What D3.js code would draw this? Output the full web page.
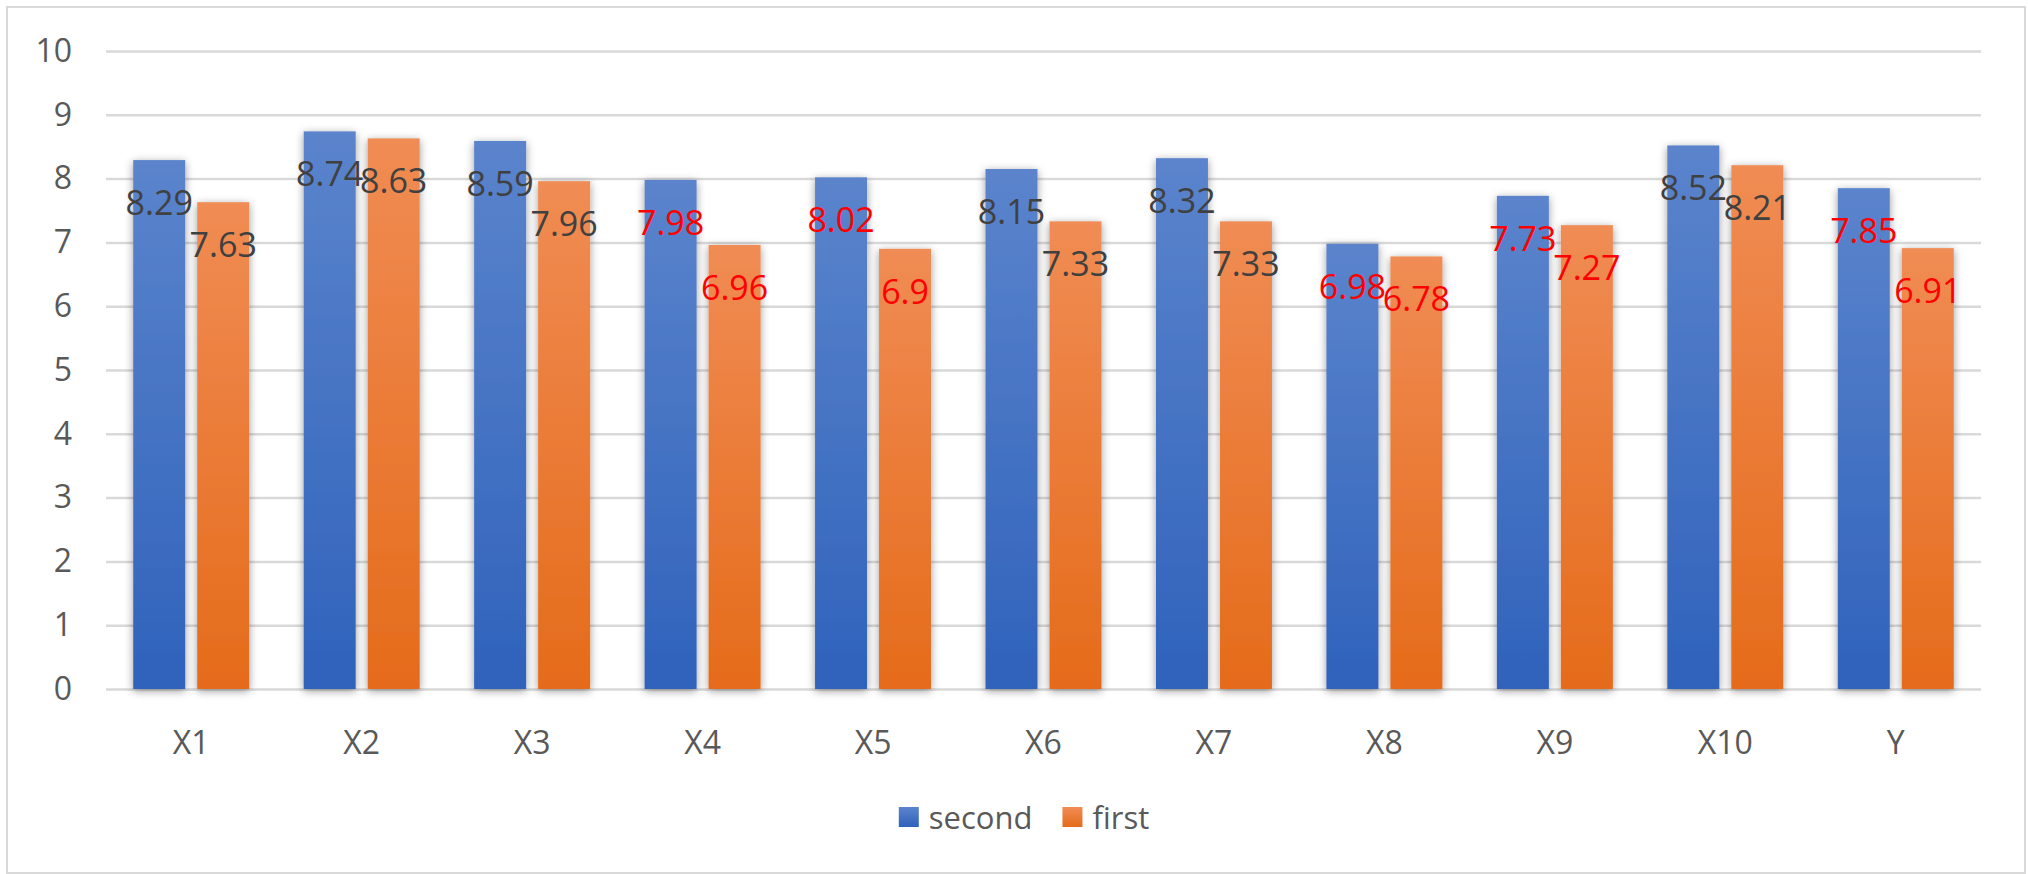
<!DOCTYPE html>
<html>
<head>
<meta charset="utf-8">
<script src="https://cdn.jsdelivr.net/npm/d3@7"></script>
<style>
  body { margin: 0; background: #fff; }
  svg { display: block; font-family: "Open Sans", "Noto Sans", sans-serif; }
</style>
</head>
<body>
<div id="chart"></div>
<script>
// chart data
const categories = ["X1", "X2", "X3", "X4", "X5", "X6", "X7", "X8", "X9", "X10", "Y"];
const seriesNames = ["second", "first"];
const secondValues = [8.29, 8.74, 8.59, 7.98, 8.02, 8.15, 8.32, 6.98, 7.73, 8.52, 7.85];
const firstValues = [7.63, 8.63, 7.96, 6.96, 6.9, 7.33, 7.33, 6.78, 7.27, 8.21, 6.91];
const yTicks = [0, 1, 2, 3, 4, 5, 6, 7, 8, 9, 10];
// categories whose labels are shown in red
const redCategories = ["X4", "X5", "X8", "X9", "Y"];

const width = 2028, height = 874;
const plot = {left: 106, right: 1981, top: 51, bottom: 689};

const svg = d3.select("#chart").append("svg")
    .attr("width", width)
    .attr("height", height);

const defs = svg.append("defs");
const grads = {
    second: ["#5b84cc", "#2f62bb"],
    first: ["#f08c54", "#e56b1a"]
};
Object.keys(grads).forEach(k => {
    const g = defs.append("linearGradient").attr("id", "grad-" + k)
        .attr("x1", 0).attr("y1", 0).attr("x2", 0).attr("y2", 1);
    g.append("stop").attr("offset", "0%").attr("stop-color", grads[k][0]);
    g.append("stop").attr("offset", "100%").attr("stop-color", grads[k][1]);
});
const shadow = defs.append("filter").attr("id", "shadow")
    .attr("x", "-30%").attr("y", "-10%").attr("width", "160%").attr("height", "120%");
shadow.append("feDropShadow").attr("dx", 0).attr("dy", 2)
    .attr("stdDeviation", 4).attr("flood-color", "#000").attr("flood-opacity", 0.4);

// outer frame
svg.append("rect")
    .attr("x", 7).attr("y", 7).attr("width", 2018).attr("height", 866)
    .attr("fill", "#fff").attr("stroke", "#d9d9d9").attr("stroke-width", 2);

const x0 = d3.scaleBand().domain(categories).range([plot.left, plot.right]);
const x1 = d3.scaleBand().domain(seriesNames)
    .range([x0.bandwidth() / 2 - 58, x0.bandwidth() / 2 + 58])
    .paddingInner(0.1875);
const y = d3.scaleLinear().domain([0, 10]).range([plot.bottom, plot.top]);

// gridlines + y labels
const yAxis = svg.append("g")
    .attr("transform", `translate(${plot.left},0)`)
    .call(d3.axisLeft(y).tickValues(yTicks).tickSize(-(plot.right - plot.left)).tickPadding(34));
yAxis.select(".domain").remove();
yAxis.selectAll(".tick line").attr("stroke", "#d9d9d9").attr("stroke-width", 2.5);
yAxis.selectAll(".tick text")
    .attr("fill", "#595959").attr("font-size", 32)
    .attr("font-family", "'Open Sans', sans-serif");

// x labels
const xAxis = svg.append("g")
    .attr("transform", `translate(0,${plot.bottom})`)
    .call(d3.axisBottom(x0).tickSize(0).tickPadding(42));
xAxis.select(".domain").remove();
xAxis.selectAll(".tick text")
    .attr("fill", "#595959").attr("font-size", 32)
    .attr("font-family", "'Open Sans', sans-serif");

const rows = categories.map((c, i) => ({
    cat: c,
    vals: [{s: "second", v: secondValues[i]}, {s: "first", v: firstValues[i]}]
}));

const groups = svg.append("g").selectAll("g")
    .data(rows).join("g")
    .attr("transform", d => `translate(${x0(d.cat)},0)`);

groups.selectAll("rect")
    .data(d => d.vals).join("rect")
    .attr("x", d => x1(d.s))
    .attr("width", x1.bandwidth())
    .attr("y", d => y(d.v))
    .attr("height", d => y(0) - y(d.v))
    .attr("fill", d => `url(#grad-${d.s})`)
    .attr("filter", "url(#shadow)");

groups.selectAll("text.lbl")
    .data(d => d.vals.map(v => ({...v, cat: d.cat}))).join("text")
    .attr("class", "lbl")
    .attr("x", d => x1(d.s) + x1.bandwidth() / 2)
    .attr("y", d => y(d.v) + 42)
    .attr("text-anchor", "middle")
    .attr("dominant-baseline", "central")
    .attr("font-size", 34)
    .attr("fill", d => redCategories.includes(d.cat) ? "#ff0000" : "#404040")
    .text(d => d.v);

// legend
const legend = svg.append("g");
let lx = 0;
seriesNames.forEach(s => {
    const item = legend.append("g").attr("transform", `translate(${lx},0)`);
    item.append("rect").attr("x", 0).attr("y", -10).attr("width", 20).attr("height", 20)
        .attr("fill", `url(#grad-${s})`);
    const t = item.append("text").attr("x", 30).attr("y", 0)
        .attr("dominant-baseline", "central")
        .attr("font-size", 31).attr("fill", "#595959").text(s);
    lx += 30 + t.node().getComputedTextLength() + 30;
});
const legendW = lx - 30;
legend.attr("transform", `translate(${1024 - legendW / 2},817)`);
</script>
</body>
</html>
